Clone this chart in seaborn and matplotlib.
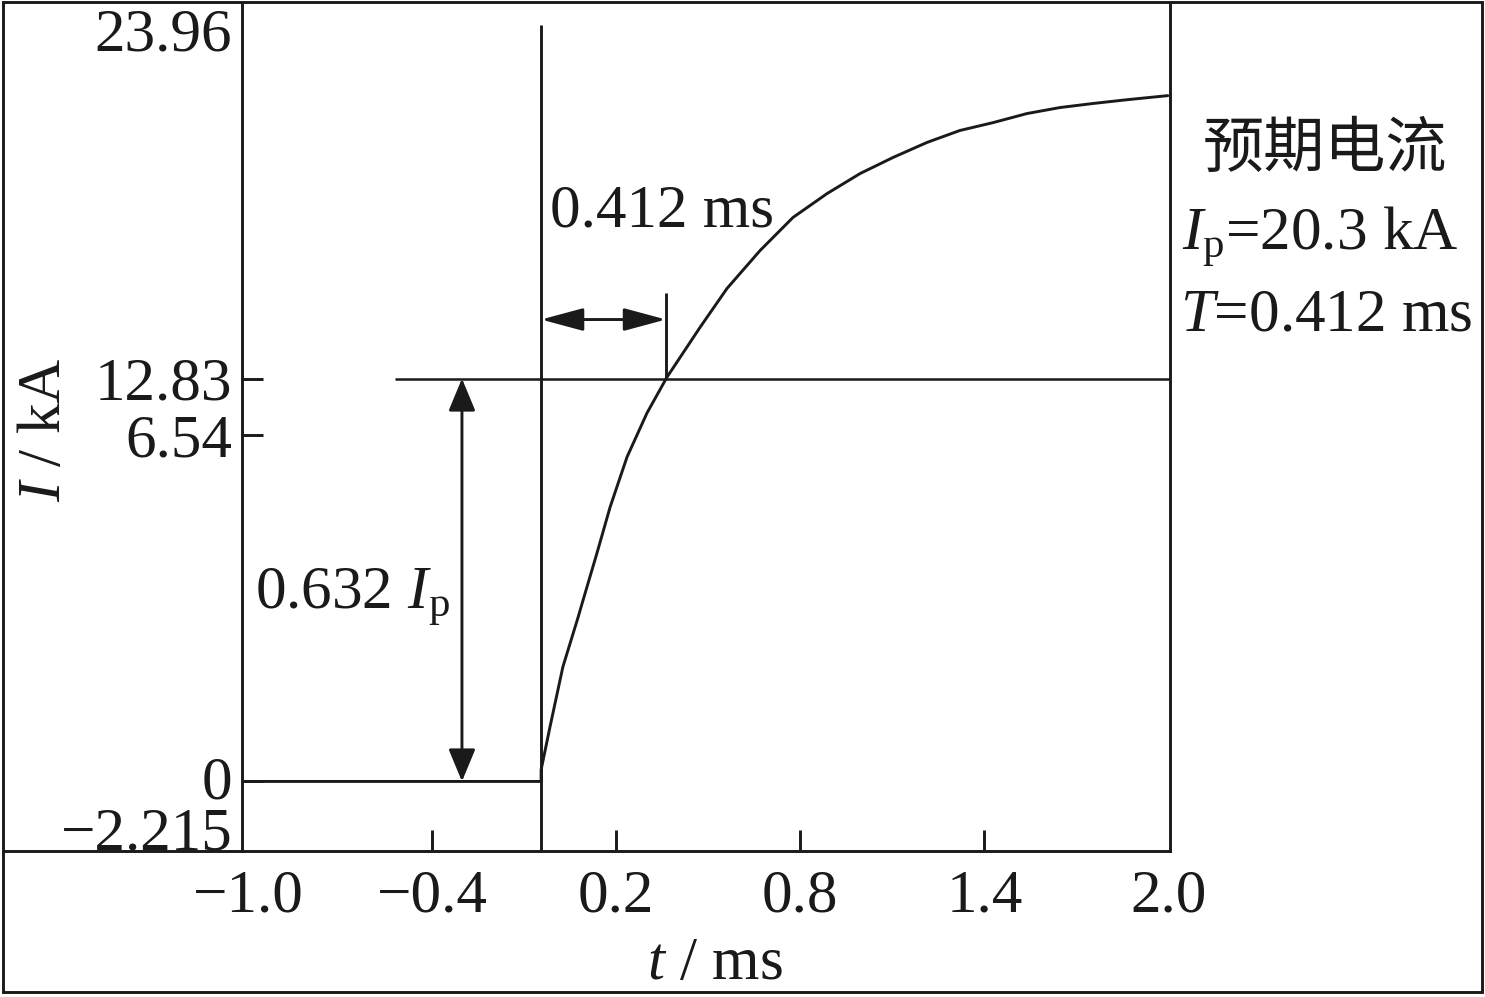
import matplotlib
matplotlib.use("Agg")
import matplotlib.pyplot as plt
from matplotlib.patches import Rectangle
from matplotlib.transforms import ScaledTranslation
import pandas as pd
import seaborn as sns

# ---------------- data ----------------
t_curve = [-0.045, -0.016, 0.026, 0.075, 0.092, 0.137, 0.180, 0.235, 0.300, 0.365,
           0.473, 0.561, 0.669, 0.776, 0.887, 0.995, 1.102, 1.213, 1.320, 1.428,
           1.539, 1.646, 1.754, 1.865, 1.998]
i_curve = [0.37, 1.74, 3.65, 5.21, 5.78, 7.27, 8.74, 10.33, 11.73, 12.87,
           14.46, 15.70, 16.91, 17.96, 18.72, 19.36, 19.87, 20.35, 20.73, 20.98,
           21.27, 21.46, 21.59, 21.71, 21.84]

t_onset = -0.045          # onset of the current rise
t_tau = 0.362             # time-constant marker
i_level = 12.83           # 0.632 Ip level
i_zero = 0.0
arrow_v_t = -0.303        # vertical double arrow position
arrow_h_i = 14.71         # horizontal double arrow height
tau_mark_top = 15.56
onset_line_top = 24.08
level_line_start = -0.521

x_ticks = [-1.0, -0.4, 0.2, 0.8, 1.4, 2.0]
x_ticklabels = ["\u22121.0", "\u22120.4", "0.2", "0.8", "1.4", "2.0"]
y_ticks = [23.96, 12.83, 11.02, 0.0, -2.215]
y_ticklabels = ["23.96", "12.83", "6.54", "0", "\u22122.215"]

x_limits = (-1.02, 2.005)
y_limits = (-2.215, 24.79)

# ---------------- style ----------------
sns.set_theme(style="white")
plt.rcParams["font.family"] = ["Liberation Serif", "Noto Sans CJK SC"]
plt.rcParams["mathtext.fontset"] = "custom"
plt.rcParams["mathtext.rm"] = "Liberation Serif"
plt.rcParams["mathtext.it"] = "Liberation Serif:italic"
plt.rcParams["axes.unicode_minus"] = True

ink = "#1a1a1a"
FS = 44
LW = 2.1

W, H = 1485, 997
fig = plt.figure(figsize=(W / 100, H / 100), dpi=100)
fig.patch.set_facecolor("white")
ax = fig.add_axes([242 / W, 1 - 851 / H, 928 / W, 848 / H])
ax.set_facecolor("white")

# waveform: zero before onset, then the rise
t_wave = [x_limits[0], t_onset] + t_curve
i_wave = [i_zero, i_zero] + i_curve
df = pd.DataFrame({"t": t_wave, "I": i_wave})
sns.lineplot(data=df, x="t", y="I", ax=ax, color=ink, lw=LW,
             estimator=None, sort=False)

# guide lines
ax.plot([t_onset, t_onset], [y_limits[0], onset_line_top], color=ink, lw=LW,
        solid_capstyle="butt")
ax.plot([level_line_start, x_limits[1]], [i_level, i_level], color=ink, lw=1.8,
        solid_capstyle="butt")
ax.plot([t_tau, t_tau], [i_level, tau_mark_top], color=ink, lw=LW,
        solid_capstyle="butt")

# double arrows
ax.annotate("", xy=(t_tau, arrow_h_i), xytext=(t_onset, arrow_h_i),
            arrowprops=dict(arrowstyle="<|-|>,head_length=26,head_width=7",
                            mutation_scale=1, color=ink, lw=LW,
                            shrinkA=0, shrinkB=0))
ax.annotate("", xy=(arrow_v_t, i_zero), xytext=(arrow_v_t, i_level),
            arrowprops=dict(arrowstyle="<|-|>,head_length=20,head_width=8.3",
                            mutation_scale=1, color=ink, lw=LW,
                            shrinkA=0, shrinkB=0))

# annotations
ax.text(0.348, 17.66, "0.412 ms", ha="center", va="baseline", fontsize=FS, color=ink)
ax.text(-0.978, 5.50, "0.632 $I_{\\rm p}$", ha="left", va="baseline",
        fontsize=FS, color=ink)

fig.text(1325 / W, 1 - 150 / H, "预期电流", ha="center", va="center",
         fontsize=FS, color=ink, family=["Noto Sans CJK SC", "DejaVu Sans"])
fig.text(1320 / W, 1 - 250 / H, "$I_{\\rm p}$=20.3 kA", ha="center",
         va="baseline", fontsize=FS, color=ink)
fig.text(1326 / W, 1 - 330.7 / H, "$T$=0.412 ms", ha="center",
         va="baseline", fontsize=FS, color=ink)

# axes
ax.set_xlim(*x_limits)
ax.set_ylim(*y_limits)
ax.set_xticks(x_ticks)
ax.set_xticklabels(x_ticklabels)
ax.set_yticks(y_ticks)
ax.set_yticklabels(y_ticklabels)
ax.tick_params(axis="both", direction="in", length=15, width=LW, colors=ink,
               labelsize=FS, bottom=True, left=True, top=False, right=False)
ax.tick_params(axis="x", pad=13)
ax.tick_params(axis="y", pad=7)
xt = ax.xaxis.get_major_ticks()
xt[0].tick1line.set_visible(False)
xt[-1].tick1line.set_visible(False)
yt = ax.yaxis.get_major_ticks()
yt[0].tick1line.set_visible(False)
yt[-1].tick1line.set_visible(False)
yt[-1].label1.set_va("baseline")
# nudge the two crowded bottom labels apart (as in the reference)
yt[-2].label1.set_transform(yt[-2].label1.get_transform()
                            + ScaledTranslation(0, 4 / 100, fig.dpi_scale_trans))
yt[-1].label1.set_transform(yt[-1].label1.get_transform()
                            + ScaledTranslation(0, 2 / 100, fig.dpi_scale_trans))
for lab in ax.get_xticklabels() + ax.get_yticklabels():
    lab.set_color(ink)

ax.set_xlabel("$t$ / ms", fontsize=FS, color=ink)
ax.set_ylabel("$I$ / kA", fontsize=FS, color=ink)
ax.xaxis.set_label_coords((715 - 242) / 928, (851 - 978.7) / 848)
ax.xaxis.label.set_va("baseline")
ax.yaxis.set_label_coords((45 - 242) / 928, (851 - 430) / 848)
ax.yaxis.label.set_va("center")
ax.yaxis.label.set_rotation_mode("default")

for side, sp in ax.spines.items():
    sp.set_color(ink)
    sp.set_linewidth(LW)
ax.spines["top"].set_visible(False)

# bottom axis line continues to the left frame
ax.plot([-239 / 928, 0], [0, 0], transform=ax.transAxes, clip_on=False,
        color=ink, lw=LW, solid_capstyle="butt")

# figure frame
fig.add_artist(Rectangle((3 / W, 5 / H), 1479 / W, 990 / H,
                         transform=fig.transFigure, fill=False, lw=LW, ec=ink))

fig.savefig("out.png", dpi=100, facecolor="white")
